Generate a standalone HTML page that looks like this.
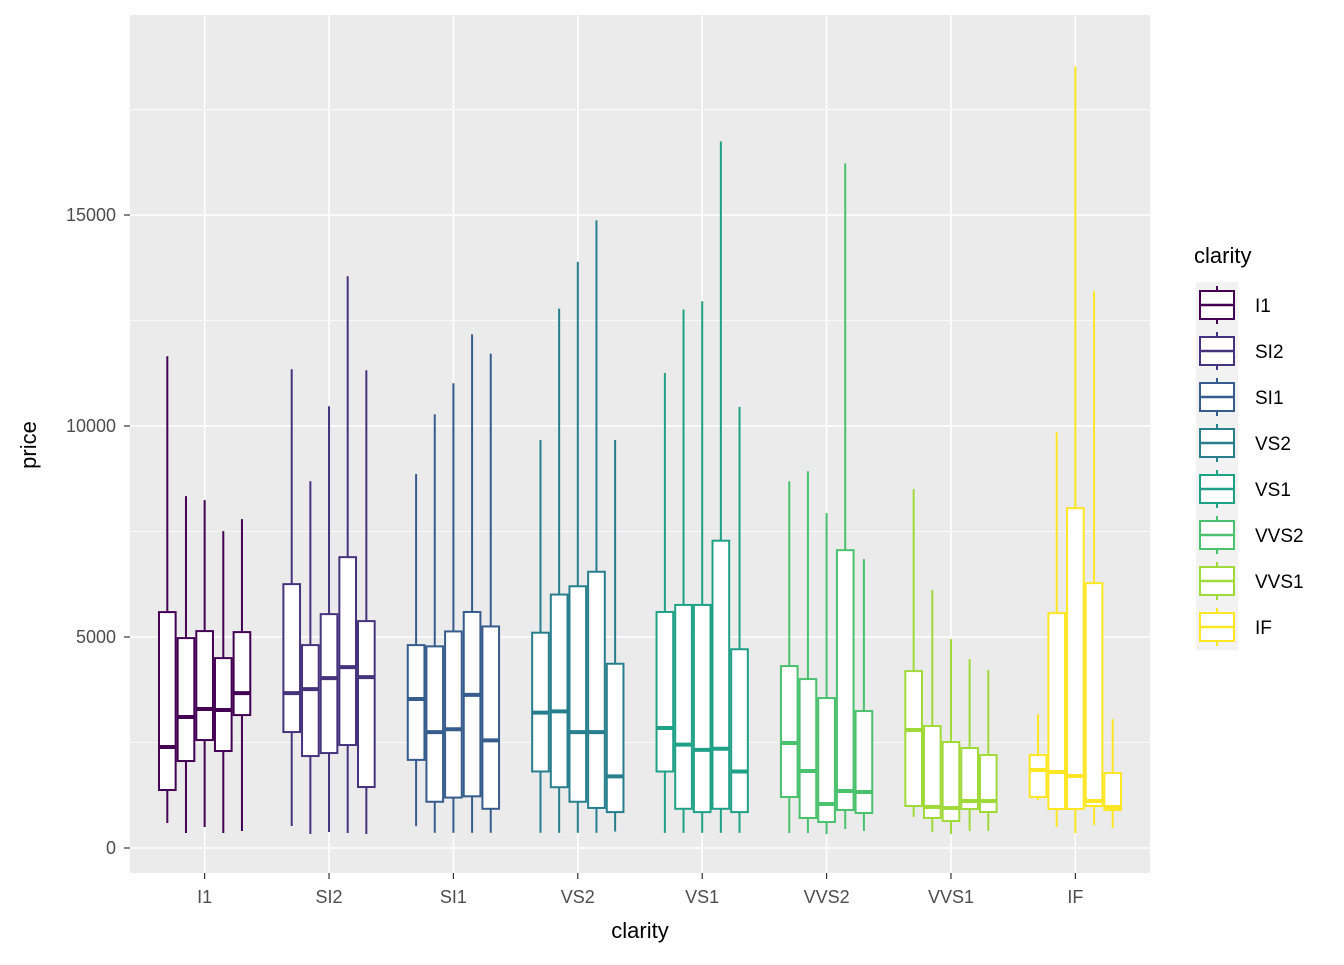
<!DOCTYPE html>
<html><head><meta charset="utf-8"><style>
html,body{margin:0;padding:0;background:#fff;}
svg text{font-family:"Liberation Sans",sans-serif;}
</style></head><body>
<svg id="chart" width="1344" height="960" xmlns="http://www.w3.org/2000/svg">
<rect width="1344" height="960" fill="#fff"/>
<rect x="130" y="15" width="1020" height="858" fill="#EBEBEB"/>
<g id="grid"></g><g id="boxes"></g><g id="axes"></g><g id="legend"></g>
<text x="640" y="938" text-anchor="middle" font-size="22" fill="#000">clarity</text>
<text transform="translate(36,445) rotate(-90)" text-anchor="middle" font-size="22" fill="#000">price</text>
</svg>
<script>
const categories=["I1","SI2","SI1","VS2","VS1","VVS2","VVS1","IF"];
const colors=["#440154","#46337E","#365C8D","#277F8E","#1FA187","#4AC16D","#9FDA3A","#FDE725"];
const yTicks=[0,5000,10000,15000];
// per clarity: 5 boxes (cut) each [whiskerLow, Q1, median, Q3, whiskerHigh]
const boxI1=[[592,1374,2393,5590,11653],[355,2061,3103,4974,8337],[497,2558,3293,5140,8243],[355,2298,3269,4500,7508],[403,3150,3671,5116,7792]];
const boxSI2=[[521,2748,3671,6253,11345],[332,2179,3766,4808,8692],[379,2250,4026,5542,10469],[355,2440,4287,6892,13548],[332,1445,4050,5377,11321]];
const boxSI1=[[517,2088,3531,4808,8863],[360,1096,2746,4778,10277],[360,1195,2815,5132,11014],[360,1225,3630,5593,12172],[360,929,2550,5250,11711]];
const boxVS2=[[360,1813,3207,5102,9668],[360,1440,3237,6006,12781],[360,1096,2746,6202,13890],[360,949,2746,6546,14872],[390,851,1696,4366,9668]];
const boxVS1=[[360,1813,2844,5593,11259],[360,929,2451,5760,12761],[360,851,2324,5760,12957],[360,929,2353,7282,16745],[360,851,1813,4710,10454]];
const boxVVS2=[[355,1208,2487,4311,8692],[355,711,1824,4003,8929],[332,616,1042,3553,7934],[450,900,1350,7058,16224],[403,829,1326,3245,6845]];
const boxVVS1=[[734,995,2795,4192,8503],[379,711,971,2890,6111],[332,639,947,2511,4950],[403,924,1113,2369,4476],[403,853,1113,2203,4216]];
const boxIF=[[1137,1208,1847,2203,3174],[497,924,1800,5566,9853],[355,924,1705,8053,18522],[545,995,1113,6276,13193],[474,900,971,1776,3055]];
const allBoxes=[boxI1,boxSI2,boxSI1,boxVS2,boxVS1,boxVVS2,boxVVS1,boxIF];

const NS="http://www.w3.org/2000/svg";
const pL=130,pR=1150,pT=15,pB=873;
function yScale(v){return 848-(v)*(848-215)/15000;}
const step=(pR-pL)/(categories.length+0.2);
function xScale(i){return pL+step*(i+0.6);}
function mk(tag,attrs,parent){const e=document.createElementNS(NS,tag);for(const k in attrs)e.setAttribute(k,attrs[k]);parent.appendChild(e);return e;}
const grid=document.getElementById('grid'),boxes=document.getElementById('boxes'),axes=document.getElementById('axes'),legend=document.getElementById('legend');
for(let v=2500;v<20000;v+=5000){const y=yScale(v);if(y<pT)continue;
const l=mk('line',{x1:pL,x2:pR,y1:y,y2:y,stroke:'#fff','stroke-width':0.8},grid);

}
yTicks.forEach(v=>{const y=yScale(v);
const l=mk('line',{x1:pL,x2:pR,y1:y,y2:y,stroke:'#fff','stroke-width':1.6},grid);


const t=mk('text',{x:116,y:y+6,'text-anchor':'end','font-size':18,fill:'#4D4D4D'},axes);t.textContent=v;


mk('line',{x1:124,x2:130,y1:y,y2:y,stroke:'#333','stroke-width':1.2},axes);});
categories.forEach((c,i)=>{const x=xScale(i);
const l=mk('line',{x1:x,x2:x,y1:pT,y2:pB,stroke:'#fff','stroke-width':1.6},grid);


mk('line',{x1:x,x2:x,y1:pB,y2:pB+6,stroke:'#333','stroke-width':1.2},axes);
const t=mk('text',{x:x,y:903,'text-anchor':'middle','font-size':18,fill:'#4D4D4D'},axes);t.textContent=c;


const dw=step*0.75,bw=dw/5;
allBoxes[i].forEach((b,j)=>{const cx=x-dw/2+bw*(j+0.5);const col=colors[i];
const g=mk('g',{},boxes);


mk('line',{x1:cx,x2:cx,y1:yScale(b[0]),y2:yScale(b[1]),stroke:col,'stroke-width':2},g);
mk('line',{x1:cx,x2:cx,y1:yScale(b[3]),y2:yScale(b[4]),stroke:col,'stroke-width':2},g);
mk('rect',{x:cx-bw/2+1,y:yScale(b[3]),width:bw-2,height:yScale(b[1])-yScale(b[3]),fill:'#fff',stroke:col,'stroke-width':2},g);
mk('line',{x1:cx-bw/2+1,x2:cx+bw/2-1,y1:yScale(b[2]),y2:yScale(b[2]),stroke:col,'stroke-width':4},g);});});
const lt=mk('text',{x:1194,y:263,'font-size':22,fill:'#000'},legend);lt.textContent='clarity';


categories.forEach((c,i)=>{const cy=305+i*46;const col=colors[i];
const g=mk('g',{},legend);


mk('rect',{x:1196,y:cy-23,width:42,height:46,fill:'#F2F2F2'},g);
mk('line',{x1:1217,x2:1217,y1:cy-19,y2:cy+19,stroke:col,'stroke-width':2},g);
mk('rect',{x:1200,y:cy-14,width:34,height:28,fill:'#fff',stroke:col,'stroke-width':2},g);
mk('line',{x1:1200,x2:1234,y1:cy,y2:cy,stroke:col,'stroke-width':2.5},g);
const t=mk('text',{x:1255,y:cy+7,'font-size':19,fill:'#000'},g);t.textContent=c;});
</script>
</body></html>
